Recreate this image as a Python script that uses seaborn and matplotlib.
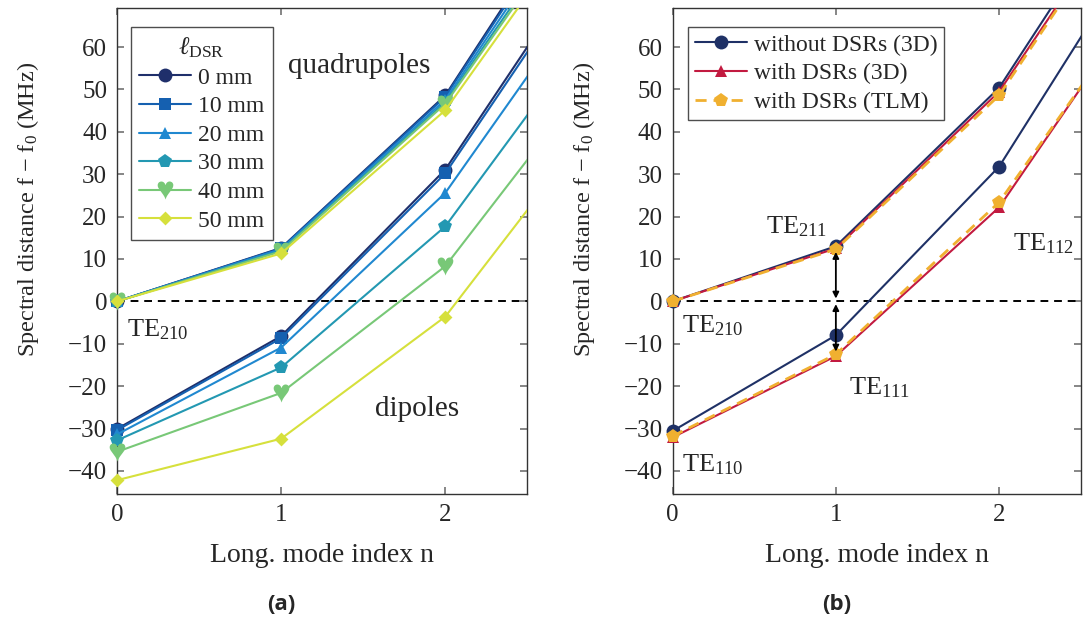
import pandas as pd
import matplotlib.pyplot as plt
import seaborn as sns
from matplotlib.lines import Line2D
from matplotlib.transforms import Bbox, TransformedBbox

# longitudinal mode index
n_idx = [0, 1, 2, 3]

# (a) spectral distance for different DSR lengths
dsr_labels = ['0 mm', '10 mm', '20 mm', '30 mm', '40 mm', '50 mm']
quad_a = [
    [0, 12.6, 48.6, 108.0],
    [0, 12.5, 48.3, 107.0],
    [0, 12.3, 47.6, 105.0],
    [0, 12.0, 47.0, 103.0],
    [0, 11.8, 46.6, 101.5],
    [0, 11.3, 45.1, 99.5],
]
dip_a = [
    [-30.1, -8.2, 31.1, 89.0],
    [-30.4, -8.7, 30.2, 87.5],
    [-31.4, -10.9, 25.6, 80.5],
    [-32.8, -15.6, 17.7, 70.2],
    [-35.5, -21.6, 8.3, 58.5],
    [-42.2, -32.4, -3.6, 46.7],
]

# (b) comparison with / without DSRs
case_labels = ['without DSRs (3D)', 'with DSRs (3D)', 'with DSRs (TLM)']
quad_b = [
    [0, 13.0, 50.4, 109.5],
    [0, 12.5, 49.5, 106.5],
    [0, 12.3, 48.6, 106.0],
]
dip_b = [
    [-30.6, -8.0, 31.8, 92.8],
    [-32.1, -12.9, 22.2, 78.5],
    [-31.8, -12.5, 23.4, 77.8],
]

colors_a = ['#1f2f6b', '#1560b0', '#2088d0', '#2398b2', '#78c877', '#d6e03c']
markers_a = ['o', 's', '^', 'p', '$\u2665$', 'D']
colors_b = ['#1f3166', '#c21a40', '#f0b030']
markers_b = ['o', '^', 'p']


def long_df(labels, quad, dip, key):
    rows = []
    for lab, q, d in zip(labels, quad, dip):
        for mode, vals in (('quad', q), ('dip', d)):
            for n, v in zip(n_idx, vals):
                rows.append({key: lab, 'mode': mode, 'n': n, 'f': v})
    return pd.DataFrame(rows)


def msize(m):
    if m.startswith('$'):
        return 13
    if m in ('s', '^', 'D'):
        return 8
    return 10


# clip lines at the axes frame, but let markers on the left spine show fully
def loosen_clip(ax):
    box = TransformedBbox(Bbox([[-0.05, -0.02], [1.0, 1.0]]), ax.transAxes)
    for line in ax.lines:
        line.set_clip_path(None)
        line.set_clip_box(box)
        line.set_clip_on(True)


df_a = long_df(dsr_labels, quad_a, dip_a, 'lDSR')
df_b = long_df(case_labels, quad_b, dip_b, 'case')

sns.set_theme(style='ticks')
plt.rcParams['font.family'] = ['Liberation Serif', 'DejaVu Serif']
plt.rcParams['mathtext.fontset'] = 'custom'
plt.rcParams['mathtext.rm'] = 'Liberation Serif'
plt.rcParams['mathtext.it'] = 'Liberation Serif:italic'
plt.rcParams['font.size'] = 17

fig = plt.figure(figsize=(10.83, 6.17), dpi=100)
ax1 = fig.add_axes([0.108, 0.199, 0.379, 0.788])
ax2 = fig.add_axes([0.621, 0.199, 0.377, 0.788])


def style_axes(ax):
    ax.set_xlim(0, 2.5)
    ax.set_ylim(-45.5, 69.2)
    ax.set_xticks([0, 1, 2])
    ax.set_yticks(range(-40, 61, 10))
    ax.set_yticklabels([str(t).replace('-', '\u2212') for t in range(-40, 61, 10)])
    ax.tick_params(direction='in', top=True, right=True, length=5,
                   color='#777777', labelsize=18, pad=7)
    for s in ax.spines.values():
        s.set_color('#333333')
        s.set_linewidth(1.0)
    ax.axhline(0, color='black', ls=(0, (4, 3)), lw=1.4, zorder=1)
    ax.set_xlabel('Long. mode index n', fontsize=20, labelpad=12)
    ax.set_ylabel('Spectral distance f \u2212 f$_\\mathregular{0}$ (MHz)', fontsize=17.5)
    ax.yaxis.set_label_coords(-0.185, 0.585)


# ---- panel (a)
for lab, c, m in zip(dsr_labels, colors_a, markers_a):
    sub = df_a[df_a['lDSR'] == lab]
    sns.lineplot(data=sub, x='n', y='f', units='mode', estimator=None,
                 color=c, marker=m, markersize=msize(m), markeredgewidth=0,
                 lw=1.5, ax=ax1, legend=False, zorder=3)
    if m == 'D':
        for ln in ax1.lines[-2:]:
            ln.set_marker((4, 0, 0))
            ln.set_markersize(10)
style_axes(ax1)
loosen_clip(ax1)
ax1.text(1.04, 55.5, 'quadrupoles', fontsize=21, va='center', ha='left')
ax1.text(1.83, -25.5, 'dipoles', fontsize=21, va='center', ha='center')
ax1.text(0.06, -6.6, 'TE$_\\mathregular{210}$', fontsize=19, va='center', ha='left')

h_a = [Line2D([], [], color=c, marker=(4, 0, 0) if m == 'D' else m,
              markersize=10 if m == 'D' else msize(m),
              markeredgewidth=0, lw=1.5) for c, m in zip(colors_a, markers_a)]
leg = ax1.legend(h_a, dsr_labels, title='$\\ell_\\mathregular{DSR}$', loc='upper left',
                 bbox_to_anchor=(0.005, 0.985), fontsize=17, title_fontsize=18,
                 frameon=True, fancybox=False, edgecolor='#222222',
                 handlelength=2.2, handletextpad=0.3, labelspacing=0.3, borderpad=0.35)
leg.get_frame().set_linewidth(1.0)

# ---- panel (b)
dashes_b = ['-', '-', (0, (4, 2.5))]
for lab, c, m, ls in zip(case_labels, colors_b, markers_b, dashes_b):
    sub = df_b[df_b['case'] == lab]
    sns.lineplot(data=sub, x='n', y='f', units='mode', estimator=None,
                 color=c, marker=m, markersize=msize(m),
                 markeredgewidth=0, lw=1.5 if ls == '-' else 2.0, ls=ls,
                 ax=ax2, legend=False, zorder=3)
style_axes(ax2)
loosen_clip(ax2)

arrow_kw = dict(arrowstyle='<|-|>', color='black', lw=1.3, mutation_scale=9,
                shrinkA=2, shrinkB=2)
ax2.annotate('', xy=(n_idx[1], 0), xytext=(n_idx[1], quad_b[2][1]), arrowprops=arrow_kw)
ax2.annotate('', xy=(n_idx[1], 0), xytext=(n_idx[1], dip_b[2][1]), arrowprops=arrow_kw)

ax2.text(0.76, 17.6, 'TE$_\\mathregular{211}$', fontsize=19, va='center', ha='center')
ax2.text(2.27, 13.6, 'TE$_\\mathregular{112}$', fontsize=19, va='center', ha='center')
ax2.text(0.06, -5.8, 'TE$_\\mathregular{210}$', fontsize=19, va='center', ha='left')
ax2.text(1.27, -20.4, 'TE$_\\mathregular{111}$', fontsize=19, va='center', ha='center')
ax2.text(0.06, -38.6, 'TE$_\\mathregular{110}$', fontsize=19, va='center', ha='left')

h_b = [Line2D([], [], color=c, marker=m, markersize=msize(m), markeredgewidth=0,
              lw=1.5 if ls == '-' else 2.0, ls=ls)
       for c, m, ls in zip(colors_b, markers_b, dashes_b)]
leg2 = ax2.legend(h_b, case_labels, loc='upper left', bbox_to_anchor=(0.008, 0.985),
                  fontsize=17, frameon=True, fancybox=False, edgecolor='#222222',
                  handlelength=2.2, handletextpad=0.3, labelspacing=0.3, borderpad=0.3)
leg2.get_frame().set_linewidth(1.0)

fig.text(0.2595, 0.012, '(a)', fontsize=16, fontweight='bold', ha='center',
         family=['Open Sans', 'DejaVu Sans'])
fig.text(0.773, 0.012, '(b)', fontsize=16, fontweight='bold', ha='center',
         family=['Open Sans', 'DejaVu Sans'])

fig.savefig('out.png', dpi=100)
